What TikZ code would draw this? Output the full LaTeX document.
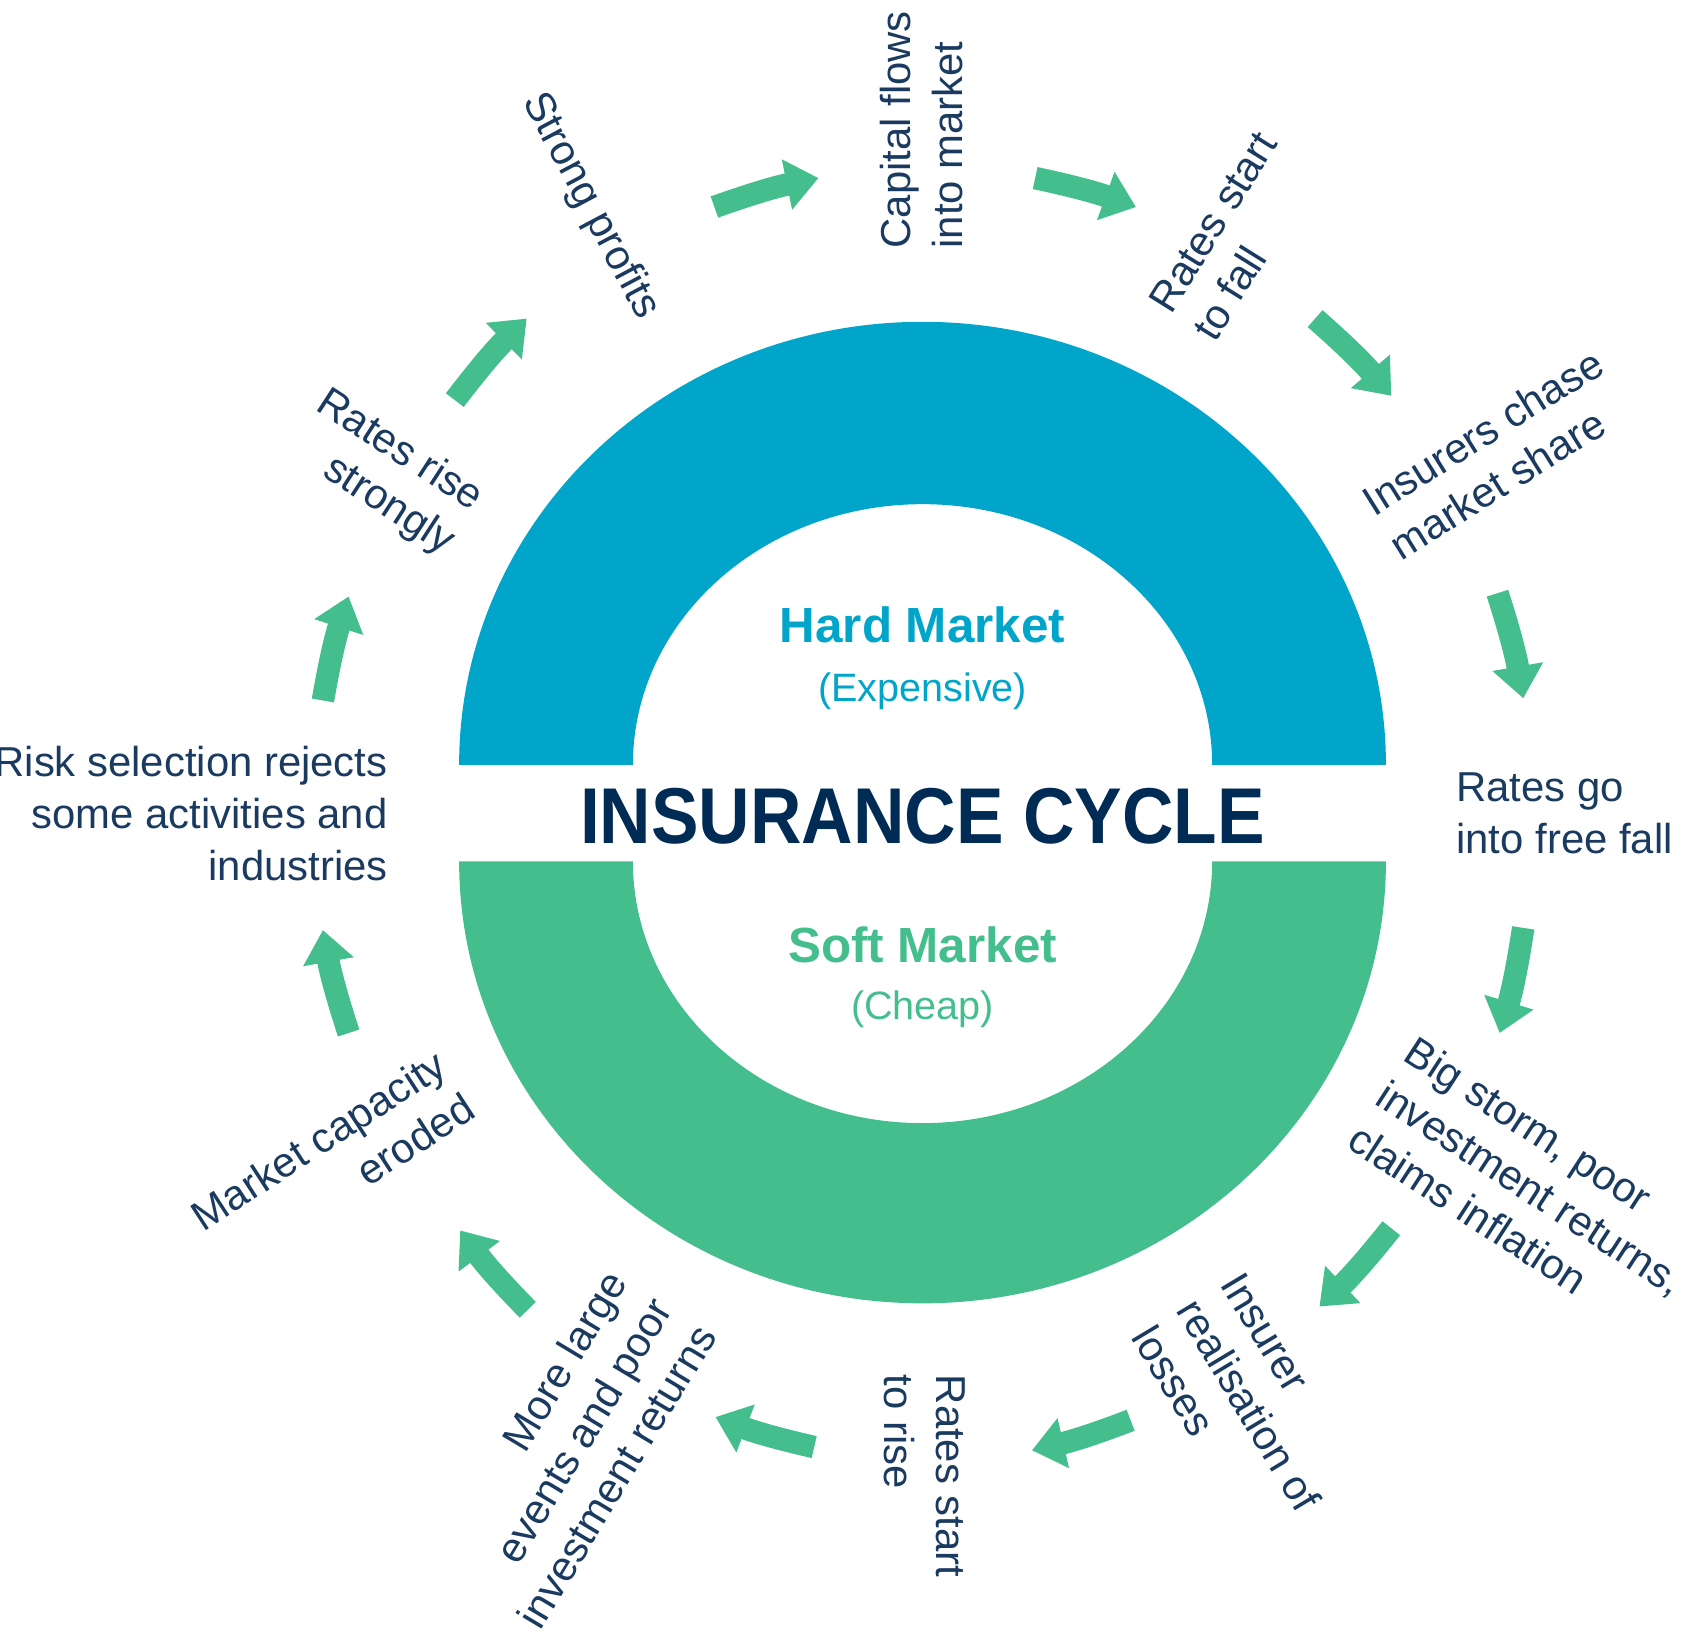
\documentclass[tikz,border=0pt]{standalone}
\usepackage{fontspec}
\setmainfont{Liberation Sans}
\newfontfamily\titlefont[FakeStretch=0.9]{Liberation Sans}
\usetikzlibrary{arrows.meta}
\definecolor{hardblue}{HTML}{00A5C9}
\definecolor{softgreen}{HTML}{45BE8D}
\definecolor{navy}{HTML}{002B55}
\definecolor{labelblue}{HTML}{1A3A60}

\begin{document}
\begin{tikzpicture}[x=0.1mm, y=0.1mm,
    cyclabel/.style={inner sep=0pt, text=labelblue, font=\fontsize{11.1pt}{13.8pt}\selectfont},
    marketname/.style={anchor=base, font=\bfseries\fontsize{13.1pt}{15pt}\selectfont},
    marketnote/.style={anchor=base, font=\fontsize{10.5pt}{12pt}\selectfont},
    cycarrow/.style={draw=softgreen, line width=2.1mm, -{Triangle[length=3mm,width=4.6mm]}, bend left=4}]
    \useasboundingbox (0,0) rectangle (1568,1527);

    % Hard market half
    \fill[hardblue] (428,814) arc[start angle=180, end angle=0, x radius=432, y radius=413]
        -- (1130,814) arc[start angle=0, end angle=180, x radius=270, y radius=243] -- cycle;
    % Soft market half
    \fill[softgreen] (428,724) arc[start angle=180, end angle=360, x radius=432, y radius=412]
        -- (1130,724) arc[start angle=360, end angle=180, x radius=270, y radius=244] -- cycle;

    \node[marketname, text=hardblue] (hard) at (860,928) {Hard Market};
    \node[marketnote, text=hardblue] (hardnote) at (860,873) {(Expensive)};
    \node[anchor=base, text=navy, font=\titlefont\bfseries\fontsize{21pt}{24pt}\selectfont] (title) at (860,741) {INSURANCE CYCLE};
    \node[marketname, text=softgreen] (soft) at (860,630) {Soft Market};
    \node[marketnote, text=softgreen] (softnote) at (860,577) {(Cheap)};

    % Stages round the cycle
    \node[cyclabel, rotate=-62] (profits) at (550,1335) {Strong profits};
    \node[cyclabel, rotate=90, align=left] (capital) at (859,1406) {Capital flows\\into market};
    \node[cyclabel, rotate=58, align=left] (ratesfall) at (1151,1307) {Rates start\\to fall};
    \node[cyclabel, rotate=32, align=left] (share) at (1395,1104) {Insurers chase\\market share};
    \node[cyclabel, anchor=west, align=left] (freefall) at (1357,769) {Rates go\\into free fall};
    \node[cyclabel, rotate=-33, align=left] (storm) at (1427,420) {Big storm, poor\\investment returns,\\claims inflation};
    \node[cyclabel, rotate=-59, align=left] (losses) at (1164,217) {Insurer\\realisation of\\losses};
    \node[cyclabel, rotate=-90, align=left] (ratesrise) at (862,151) {Rates start\\to rise};
    \node[cyclabel, rotate=59, align=right] (events) at (533,176) {More large\\events and poor\\investment returns};
    \node[cyclabel, rotate=33, align=right] (capacity) at (310,444) {Market capacity\\eroded};
    \node[cyclabel, anchor=east, align=right] (selection) at (362,769) {Risk selection rejects\\some activities and\\industries};
    \node[cyclabel, rotate=-33, align=right] (strongly) at (359,1086) {Rates rise\\strongly};

    % Arrows between the stages
    \foreach \n/\a/\b/\c/\d in {1/424/1154/491/1230, 2/666/1334/763/1361, 3/965/1361/1059/1334,
        4/1226/1230/1297/1158, 5/1396/974/1420/876, 6/1420/662/1398/564,
        7/1297/382/1230/309, 8/1054/203/962/175, 9/759/178/667/206,
        10/492/306/429/380, 11/325/564/301/660, 12/301/874/325/971} {
        \coordinate (tail\n) at (\a,\b);
        \coordinate (tip\n) at (\c,\d);
        \draw[cycarrow] (tail\n) to (tip\n);
    }
\end{tikzpicture}
\end{document}
